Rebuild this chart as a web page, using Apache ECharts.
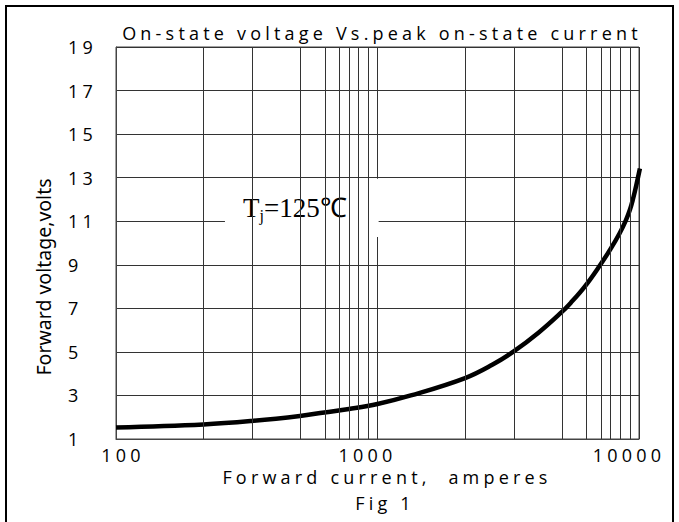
<!DOCTYPE html>
<html>
<head>
<meta charset="utf-8">
<script src="https://cdn.jsdelivr.net/npm/echarts@6/dist/echarts.min.js"></script>
<style>
  html, body { margin: 0; padding: 0; background: #fff; }
  #chart { width: 679px; height: 522px; }
  #chart text[style*="Open Sans"] { letter-spacing: 4.2px; }
</style>
</head>
<body>
<div id="chart"></div>
<script>
// Curve (forward current in A, forward voltage in V)
var current = [100, 216, 330, 505, 626, 778, 1000, 1341, 2163, 2757, 3319, 4126, 5033, 5479, 6213, 7095, 7797, 8433, 8899, 9244, 9485, 9760, 10080];
var voltage = [1.53, 1.67, 1.83, 2.06, 2.22, 2.38, 2.61, 3.0, 3.80, 4.42, 5.02, 5.88, 6.80, 7.25, 8.01, 8.98, 9.74, 10.45, 11.03, 11.55, 12.02, 12.64, 13.42];
// Vertical grid lines as drawn in the reference (values on the current axis)
var xGrid = [216, 333, 508, 631, 716, 778, 847, 922, 2160, 3330, 5080, 6310, 7160, 7780, 8470, 9220];
var xTicks = [100, 1000, 10000];
var yTicks = [1, 3, 5, 7, 9, 11, 13, 15, 17, 19];

var titleText = 'On-state voltage Vs.peak on-state current';
var xName = 'Forward current,  amperes';
var yName = 'Forward voltage,volts';
var figText = 'Fig 1';

var curve = current.map(function (c, i) { return [c, voltage[i]]; });

var chart = echarts.init(document.getElementById('chart'), null, { renderer: 'svg' });
var sansSpaced = 'Open Sans';
var gridColor = '#333';
var tickFont = { fontFamily: sansSpaced, fontSize: 18, color: '#000' };

chart.setOption({
  animation: false,
  backgroundColor: '#fff',
  grid: { left: 116, right: 40, top: 47, bottom: 83, show: true, borderColor: '#444', borderWidth: 1, outerBoundsMode: 'none' },
  xAxis: {
    type: 'log', logBase: 10, min: xTicks[0], max: xTicks[xTicks.length - 1],
    axisLine: { show: true, lineStyle: { color: '#444', width: 1 } },
    axisTick: { show: false },
    splitLine: { show: true, lineStyle: { color: gridColor, width: 1 } },
    minorTick: { show: false }, minorSplitLine: { show: false },
    axisLabel: {
      color: '#000', fontFamily: sansSpaced, fontSize: 18, margin: 7,
      formatter: function (v) {
        var r = Math.round(v);
        var i = xTicks.indexOf(r);
        return '{l' + i + '|' + r + '}';
      },
      rich: {
        l0: Object.assign({ padding: [0, 0, 0, 14] }, tickFont),
        l1: Object.assign({ padding: [0, 20, 0, 0] }, tickFont),
        l2: Object.assign({ padding: [0, 20, 0, 0] }, tickFont)
      }
    }
  },
  yAxis: {
    type: 'value', min: yTicks[0], max: yTicks[yTicks.length - 1], interval: 2,
    axisLine: { show: true, lineStyle: { color: '#444', width: 1 } },
    axisTick: { show: false },
    splitLine: { show: true, lineStyle: { color: gridColor, width: 1 } },
    axisLabel: { color: '#000', fontFamily: sansSpaced, fontSize: 18, align: 'left', margin: 48 }
  },
  series: [
    {
      type: 'line', data: [], z: 1, silent: true,
      markLine: {
        silent: true, symbol: 'none', animation: false,
        label: { show: false },
        lineStyle: { type: 'solid', color: gridColor, width: 1 },
        emphasis: { disabled: true },
        data: xGrid.map(function (v) { return { xAxis: v }; })
      }
    },
    {
      type: 'line', data: [], z: 2, silent: true,
      markArea: {
        silent: true,
        itemStyle: { color: '#fff' },
        label: {
          show: true, position: 'inside', offset: [-7, 0],
          formatter: '{t|T}{s|j}{t|=125℃}',
          rich: {
            t: { fontFamily: 'Liberation Serif', fontSize: 27, color: '#000' },
            s: { fontFamily: 'Liberation Serif', fontSize: 16, color: '#000', padding: [16, 0, 0, 0] }
          }
        },
        data: [[{ xAxis: 261, yAxis: 12.95 }, { xAxis: 1010, yAxis: 10.28 }]]
      }
    },
    {
      type: 'line', data: curve, z: 3, smooth: 0.4, clip: false,
      showSymbol: false, symbol: 'none',
      lineStyle: { color: '#000', width: 4.5 }
    }
  ],
  graphic: [
    { type: 'rect', shape: { x: 6, y: 6, width: 667, height: 530 }, style: { fill: 'none', stroke: '#000', lineWidth: 2 }, z: 10, silent: true },
    { type: 'text', x: 382, y: 33, style: { text: titleText, font: '18px "Open Sans"', fill: '#000', textAlign: 'center', textVerticalAlign: 'middle' }, silent: true },
    { type: 'text', x: 387, y: 477, style: { text: xName, font: '18px "Open Sans"', fill: '#000', textAlign: 'center', textVerticalAlign: 'middle' }, silent: true },
    { type: 'text', x: 385, y: 503, style: { text: figText, font: '18px "Open Sans"', fill: '#000', textAlign: 'center', textVerticalAlign: 'middle' }, silent: true },
    { type: 'text', x: 43, y: 277, rotation: Math.PI / 2, style: { text: yName, font: '19.5px "Noto Sans"', fill: '#000', textAlign: 'center', textVerticalAlign: 'middle' }, silent: true }
  ]
});
</script>
</body>
</html>
